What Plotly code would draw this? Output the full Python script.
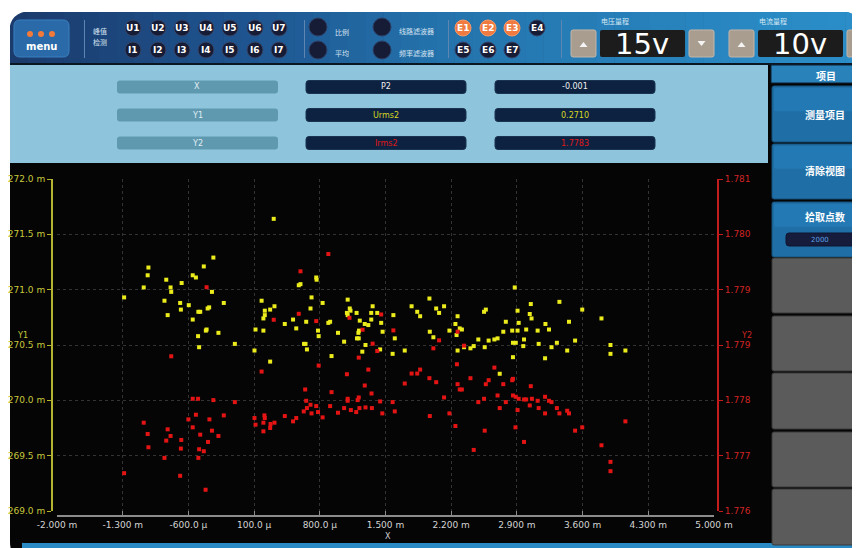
import plotly.graph_objects as go

# page body adds an 8px margin; the figure is sized to fill the rest of the 860x548 window
OFF = 8
W, H = 860 - OFF, 548 - OFF

# ---------------- data ----------------
y1_x = [0.309, -0.334, -0.436, -1.026, -1.034, -0.554, -0.520, -0.836, -0.672, -0.790,
        -1.076, -0.783, -0.349, -1.285, -0.855, -0.688, -0.596, -0.223, -0.379, -0.395,
        -0.680, -0.494, -0.474, -0.821, -0.554, -0.406, -0.414, -0.280, -0.497, -0.105,
        -0.486, 0.762, 0.766, 0.594, 0.576, 0.180, 0.712, 0.830, 0.317, 0.271,
        0.214, 0.701, 0.214, 0.199, 0.515, 0.427, 0.655, 0.549, 0.115, 0.199,
        0.781, 0.788, 0.632, 0.648, 0.663, 0.104, 0.271, 0.925, 1.097, 1.119,
        1.127, 1.089, 1.097, 1.192, 1.363, 1.348, 1.412, 1.454, 1.348, 1.226,
        1.279, 1.317, 0.891, 0.910, 1.218, 1.211, 0.994, 1.469, 1.196, 1.215,
        1.287, 1.059, 1.253, 1.443, 1.599, 1.576, 1.705, 1.584, 1.778, 1.838,
        1.869, 1.968, 2.040, 2.071, 2.124, 2.268, 2.245, 2.181, 1.972, 2.010,
        2.257, 2.291, 2.314, 2.268, 2.337, 2.405, 2.440, 2.489, 2.557, 2.550,
        2.569, 2.599, 2.660, 2.694, 2.755, 2.782, 2.717, 2.877, 2.907, 2.919,
        2.850, 2.907, 2.858, 2.888, 2.858, 2.976, 2.968, 2.999, 3.048, 3.037,
        3.056, 3.121, 3.132, 3.204, 3.242, 3.200, 3.269, 3.326, 3.353, 3.455,
        3.436, 3.520, 3.596, 3.801, 3.897, 3.897, 4.056]
y1_vals = [271.64, 271.29, 271.21, 271.20, 271.13, 271.13, 271.11, 271.09, 271.06, 271.02,
           271.02, 270.98, 270.98, 270.93, 270.90, 270.88, 270.86, 270.88, 270.84, 270.83,
           270.82, 270.80, 270.80, 270.77, 270.73, 270.64, 270.63, 270.61, 270.58, 270.51,
           270.48, 271.11, 271.09, 271.05, 271.04, 270.90, 270.93, 270.88, 270.85, 270.82,
           270.81, 270.83, 270.77, 270.74, 270.73, 270.69, 270.71, 270.65, 270.64, 270.63,
           270.63, 270.58, 270.51, 270.51, 270.46, 270.45, 270.35, 270.40, 270.91, 270.83,
           270.81, 270.79, 270.77, 270.79, 270.85, 270.79, 270.79, 270.70, 270.73, 270.72,
           270.69, 270.68, 270.70, 270.71, 270.63, 270.61, 270.61, 270.62, 270.56, 270.56,
           270.50, 270.53, 270.44, 270.46, 270.56, 270.42, 270.45, 270.77, 270.85, 270.80,
           270.76, 270.92, 270.83, 270.79, 270.85, 270.76, 270.69, 270.63, 270.62, 270.57,
           270.59, 270.65, 270.64, 270.45, 270.48, 270.47, 270.49, 270.55, 270.48, 270.80,
           270.82, 270.54, 270.55, 270.56, 270.62, 270.71, 270.24, 271.02, 270.81, 270.70,
           270.63, 270.63, 270.52, 270.52, 270.39, 270.55, 270.49, 270.64, 270.87, 270.78,
           270.74, 270.63, 270.51, 270.69, 270.64, 270.38, 270.48, 270.52, 270.89, 270.71,
           270.45, 270.54, 270.82, 270.74, 270.50, 270.42, 270.45]

y2_x = [0.891, 0.594, -0.406, 0.576, 1.454, 1.116, 0.309, 0.762, 1.256, 1.584,
        2.268, 2.071, 1.363, 1.412, 2.010, 2.337, -0.783, 1.215, 0.788, 0.180,
        1.317, 1.089, 2.261, 1.869, 1.778, 1.838, 2.660, 1.968, 2.040, 2.405,
        2.599, 2.569, 2.268, 2.755, 2.858, 2.850, 3.048, 1.705, 1.279, 0.644,
        0.925, 1.351, 2.291, 2.314, 2.694, 2.124, 2.858, 2.888, 2.919, 2.976,
        2.999, 3.060, 3.121, 3.200, 3.242, 3.269, 3.326, 2.550, 2.489, 2.782,
        2.717, 2.907, 3.037, 3.132, 3.200, 3.353, 3.436, 3.455, 3.596, 3.520,
        2.885, 2.976, 2.557, 2.245, 2.181, 1.972, 2.440, 3.801, 3.897, 3.897,
        4.056, -0.554, -0.497, -0.334, -0.105, -0.520, -0.223, -0.376, -0.600, -1.076,
        -0.554, -0.821, -0.349, -1.034, -0.790, -0.474, -0.280, -0.836, -0.676, -0.391,
        -1.026, -0.680, -0.486, -0.436, -0.855, -0.494, -1.285, -0.688, -0.417, 0.104,
        0.210, 0.214, 0.199, 0.115, 0.275, 0.317, 0.271, 0.199, 0.427, 0.549,
        0.515, 0.629, 0.663, 0.701, 0.655, 0.762, 0.712, 0.781, 0.830, 0.910,
        0.994, 1.059, 1.097, 1.097, 1.215, 1.203, 1.131, 1.188, 1.222, 1.287,
        1.355, 1.443, 1.466, 1.576, 1.599]
y2_vals = [1.77987, 1.77961, 1.77937, 1.77897, 1.77896, 1.77891, 1.77888, 1.77886, 1.77873, 1.77872,
           1.77870, 1.77857, 1.77852, 1.77841, 1.77845, 1.77849, 1.77833, 1.77831, 1.77819, 1.77810,
           1.77813, 1.77806, 1.77821, 1.77813, 1.77807, 1.77807, 1.77816, 1.77800, 1.77794, 1.77800,
           1.77797, 1.77791, 1.77791, 1.77791, 1.77799, 1.77797, 1.77788, 1.77792, 1.77789, 1.77783,
           1.77779, 1.77777, 1.77783, 1.77783, 1.77774, 1.77771, 1.77774, 1.77772, 1.77769, 1.77768,
           1.77768, 1.77769, 1.77766, 1.77772, 1.77766, 1.77764, 1.77755, 1.77769, 1.77764, 1.77764,
           1.77755, 1.77752, 1.77759, 1.77755, 1.77747, 1.77747, 1.77751, 1.77747, 1.77726, 1.77721,
           1.77726, 1.77704, 1.77721, 1.77728, 1.77747, 1.77743, 1.77692, 1.77699, 1.77674, 1.77660,
           1.77735, 1.77769, 1.77769, 1.77767, 1.77764, 1.77745, 1.77744, 1.77738, 1.77738, 1.77733,
           1.77726, 1.77723, 1.77721, 1.77716, 1.77713, 1.77715, 1.77713, 1.77706, 1.77707, 1.77704,
           1.77696, 1.77694, 1.77693, 1.77690, 1.77680, 1.77680, 1.77657, 1.77653, 1.77632, 1.77740,
           1.77744, 1.77740, 1.77733, 1.77730, 1.77731, 1.77733, 1.77725, 1.77720, 1.77743, 1.77740,
           1.77735, 1.77750, 1.77755, 1.77760, 1.77766, 1.77758, 1.77747, 1.77749, 1.77741, 1.77758,
           1.77748, 1.77755, 1.77769, 1.77766, 1.77771, 1.77767, 1.77752, 1.77749, 1.77755, 1.77756,
           1.77755, 1.77765, 1.77747, 1.77764, 1.77750]

x_tickvals = [-2.0, -1.3, -0.6, 0.1, 0.8, 1.5, 2.2, 2.9, 3.6, 4.3, 5.0]
x_ticktext = ["-2.000 m", "-1.300 m", "-600.0 µ", "100.0 µ", "800.0 µ", "1.500 m",
              "2.200 m", "2.900 m", "3.600 m", "4.300 m", "5.000 m"]
y1_tickvals = [269.0, 269.5, 270.0, 270.5, 271.0, 271.5, 272.0]
y1_ticktext = ["269.0 m", "269.5 m", "270.0 m", "270.5 m", "271.0 m", "271.5 m", "272.0 m"]
y2_tickvals = [1.776, 1.776833, 1.777667, 1.7785, 1.779333, 1.780167, 1.781]
y2_ticktext = ["1.776", "1.777", "1.778", "1.779", "1.779", "1.780", "1.781"]

u_labels = ["U1", "U2", "U3", "U4", "U5", "U6", "U7"]
i_labels = ["I1", "I2", "I3", "I4", "I5", "I6", "I7"]
e_row1 = ["E1", "E2", "E3", "E4"]
e_row2 = ["E5", "E6", "E7"]
e_active = ["E1", "E2", "E3"]
info_names = ["X", "Y1", "Y2"]
info_params = ["P2", "Urms2", "Irms2"]
info_values = ["-0.001", "0.2710", "1.7783"]
info_colors = ["#f0f0f0", "#d8d820", "#e01818"]
side_buttons = ["测量项目", "清除视图", "拾取点数"]
pick_points = "2000"
volt_range = "15v"
curr_range = "10v"

# ---------------- helpers (coordinates given in window pixels) ----------------
shapes = []
annos = []
CJK = "Noto Sans CJK SC"
SANS = "DejaVu Sans"


def PX(x):
    return (x - OFF) / W


def PY(y):
    return 1 - (y - OFF) / H


def rect(x0, y0, x1, y1, fill, lc=None, lw=0):
    shapes.append(dict(type="rect", xref="paper", yref="paper", layer="below",
                       x0=PX(x0), x1=PX(x1), y0=PY(y1), y1=PY(y0), fillcolor=fill,
                       line=dict(width=lw, color=lc or fill)))


def path(pts_str, fill, lc=None, lw=0):
    shapes.append(dict(type="path", xref="paper", yref="paper", layer="below",
                       path=pts_str, fillcolor=fill, line=dict(width=lw, color=lc or fill)))


def P(x, y):
    return f"{PX(x):.5f},{PY(y):.5f}"


def rrect(x0, y0, x1, y1, r, fill, lc=None, lw=0):
    s = (f"M {P(x0 + r, y0)} L {P(x1 - r, y0)} Q {P(x1, y0)} {P(x1, y0 + r)} "
         f"L {P(x1, y1 - r)} Q {P(x1, y1)} {P(x1 - r, y1)} L {P(x0 + r, y1)} "
         f"Q {P(x0, y1)} {P(x0, y1 - r)} L {P(x0, y0 + r)} Q {P(x0, y0)} {P(x0 + r, y0)} Z")
    path(s, fill, lc, lw)


def circle(cx, cy, r, fill, lc=None, lw=0):
    shapes.append(dict(type="circle", xref="paper", yref="paper", layer="below",
                       x0=PX(cx - r), x1=PX(cx + r), y0=PY(cy + r), y1=PY(cy - r),
                       fillcolor=fill, line=dict(width=lw, color=lc or fill)))


def text(x, y, s, size, color, family=SANS, bold=False, xanchor="center"):
    annos.append(dict(xref="paper", yref="paper", x=PX(x), y=PY(y), text=(f"<b>{s}</b>" if bold else s),
                      showarrow=False, xanchor=xanchor, yanchor="middle",
                      font=dict(size=size, color=color, family=family)))


def lerp_col(c0, c1, t):
    a = [int(c0[i:i + 2], 16) for i in (1, 3, 5)]
    b = [int(c1[i:i + 2], 16) for i in (1, 3, 5)]
    return "#" + "".join(f"{int(round(a[k] + (b[k] - a[k]) * t)):02x}" for k in range(3))


# ---------------- device body ----------------
rrect(10, 12, 880, 560, 18, "#050505")
rect(22, 541, 860, 548, "#2a8ac4")
rrect(10, 400, 880, 543, 14, "#050505")

# top bar gradient
stops = [(10, "#1b3a6c"), (250, "#1e5590"), (450, "#2474ad"), (863, "#2b8fc9")]
n = 48
for k in range(n):
    xa = 10 + (863 - 10) * k / n
    xb = 10 + (863 - 10) * (k + 1) / n + 0.6
    xm = (xa + xb) / 2
    for j in range(len(stops) - 1):
        if stops[j][0] <= xm <= stops[j + 1][0]:
            t = (xm - stops[j][0]) / (stops[j + 1][0] - stops[j][0])
            col = lerp_col(stops[j][1], stops[j + 1][1], t)
    rect(xa, 12, xb, 63, col)
rect(10, 63, 860, 65, "#0a1622")
path(f"M {P(9, 11)} L {P(30, 11)} Q {P(10, 12)} {P(9, 32)} Z", "#ffffff")
path(f"M {P(861, 11)} L {P(842, 11)} Q {P(861, 12)} {P(861, 32)} Z", "#ffffff")

# menu button
rrect(14, 20, 69, 57, 6, "#2a6aa8", "#3b80c0", 1)
for dx in (30, 41, 52):
    circle(dx, 34, 3, "#f47a3a")
text(41, 46, "menu", 10, "#ffffff", bold=True)
for sx in (84, 304, 448, 561):
    rect(sx, 20, sx + 1, 58, "#5f86b0")
text(100, 31, "峰值", 7, "#d6e4f2", CJK)
text(100, 42, "检测", 7, "#d6e4f2", CJK)

ux = [133, 158, 182, 206, 230, 255, 279]
for k in range(7):
    circle(ux[k], 28, 8, "#161b36", "#35456a", 1)
    text(ux[k], 28, u_labels[k], 9, "#ffffff", bold=True)
    circle(ux[k], 50, 8, "#161b36", "#35456a", 1)
    text(ux[k], 50, i_labels[k], 9, "#ffffff", bold=True)

for cx in (318, 382):
    circle(cx, 27, 9, "#161b36", "#2e3f66", 1)
    circle(cx, 50, 9, "#161b36", "#2e3f66", 1)
text(342, 32, "比例", 7, "#d6e4f2", CJK)
text(342, 53, "平均", 7, "#d6e4f2", CJK)
text(416, 31, "线路滤波器", 7, "#d6e4f2", CJK)
text(416, 53, "频率滤波器", 7, "#d6e4f2", CJK)

ex = [463, 488, 512, 537]
for k, lab in enumerate(e_row1):
    fill = "#f07a40" if lab in e_active else "#161b36"
    circle(ex[k], 28, 8, fill, "#35456a" if fill == "#161b36" else "#f49a6a", 1)
    text(ex[k], 28, lab, 9, "#ffffff", bold=True)
for k, lab in enumerate(e_row2):
    fill = "#f07a40" if lab in e_active else "#161b36"
    circle(ex[k], 50, 8, fill, "#35456a", 1)
    text(ex[k], 50, lab, 9, "#ffffff", bold=True)


def range_ctrl(x0, label, val):
    text(x0 + 44, 21, label, 7, "#d6e8f6", CJK)
    rrect(x0, 30, x0 + 25, 57, 2, "#a99d8f", "#c4b8aa", 1)
    path(f"M {P(x0 + 8.5, 47)} L {P(x0 + 16.5, 47)} L {P(x0 + 12.5, 42)} Z", "#f4f4f4")
    rrect(x0 + 29, 30, x0 + 114, 57, 2, "#1c1c1c")
    text(x0 + 71, 44, val, 29, "#ffffff")
    rrect(x0 + 118, 30, x0 + 143, 57, 2, "#a99d8f", "#c4b8aa", 1)
    path(f"M {P(x0 + 126.5, 41)} L {P(x0 + 134.5, 41)} L {P(x0 + 130.5, 46)} Z", "#f4f4f4")


range_ctrl(571, "电压量程", volt_range)
range_ctrl(729, "电流量程", curr_range)

# info panel
rect(10, 65, 768, 163, "#8fc5dc")
rows_y = [87, 115, 143]
for k in range(3):
    yc = rows_y[k]
    rrect(117, yc - 6.5, 278, yc + 6.5, 3, "#5e99b0")
    text(197, yc, info_names[k], 8, "#e2edf2")
    rrect(306, yc - 6.5, 466, yc + 6.5, 3, "#0c2240", "#1a3350", 1)
    text(386, yc, info_params[k], 8, info_colors[k])
    rrect(495, yc - 6.5, 655, yc + 6.5, 3, "#0c2240", "#1a3350", 1)
    text(575, yc, info_values[k], 8, info_colors[k])

# right panel
rect(771, 65, 862, 83, "#2a82bb", "#0d2030", 1)
text(826, 75, "项目", 10, "#ffffff", CJK, bold=True)
btn_y = [(86, 142), (144, 199), (202, 257)]
for k, (ya, yb) in enumerate(btn_y):
    rrect(772, ya, 866, yb, 2, "#1f6fa6", "#15507a", 1)
    rrect(774, ya + 2, 866, ya + (yb - ya) * 0.45, 2, "#2379b3")
text(825, 114, side_buttons[0], 10, "#ffffff", CJK, bold=True)
text(825, 171, side_buttons[1], 10, "#ffffff", CJK, bold=True)
text(825, 216, side_buttons[2], 10, "#ffffff", CJK, bold=True)
rrect(786, 233, 855, 246, 3, "#161c3c", "#0f1530", 1)
text(820, 240, pick_points, 7, "#5aa0e6")
for ya, yb in [(258, 313), (316, 371), (373, 429), (432, 487), (489, 545)]:
    rrect(772, ya, 866, yb, 2, "#5b5b5b", "#3a3a3a", 1)

text(22, 335, "Y1", 8, "#c8c83c")
text(746, 335, "Y2", 8, "#d02424")
text(388, 536, "X", 8, "#d0d0d0")

# ---------------- traces ----------------
fig = go.Figure()
fig.add_trace(go.Scatter(x=y1_x, y=y1_vals, mode="markers", name="Urms2",
                         marker=dict(symbol="square", size=4, color="#ecec1c", line=dict(width=0)),
                         yaxis="y"))
fig.add_trace(go.Scatter(x=y2_x, y=y2_vals, mode="markers", name="Irms2",
                         marker=dict(symbol="square", size=4, color="#e41414", line=dict(width=0)),
                         yaxis="y2"))

ydom = [PY(511), PY(179)]
grid = dict(showgrid=True, gridcolor="#333333", griddash="dot", gridwidth=1, zeroline=False)

fig.update_layout(
    template="none",
    width=W, height=H, autosize=False,
    margin=dict(l=0, r=0, t=0, b=0, pad=0),
    paper_bgcolor="#ffffff", plot_bgcolor="rgba(0,0,0,0)",
    showlegend=False,
    shapes=shapes, annotations=annos,
    xaxis=dict(domain=[PX(57), PX(714)], range=[-2.0, 5.0], tickmode="array",
               tickvals=x_tickvals, ticktext=x_ticktext, anchor="free", position=PY(516),
               automargin=False,
               showline=True, linecolor="#8c8c8c", linewidth=2, ticks="inside", ticklen=4,
               tickcolor="#8c8c8c", tickfont=dict(size=9, color="#d4d4d4", family=SANS), **grid),
    yaxis=dict(domain=ydom, range=[269.0, 272.0], tickmode="array", tickvals=y1_tickvals,
               ticktext=y1_ticktext, anchor="free", position=PX(52), showline=True,
               automargin=False,
               linecolor="#b4b430", linewidth=2, ticks="outside", ticklen=4, tickcolor="#b4b430",
               tickfont=dict(size=9, color="#c8c83c", family=SANS), **grid),
    yaxis2=dict(domain=ydom, range=[1.776, 1.781], tickmode="array", tickvals=y2_tickvals,
                ticktext=y2_ticktext, overlaying="y", side="right", anchor="free",
                automargin=False,
                position=PX(718), showline=True, linecolor="#c41c1c", linewidth=2,
                ticks="outside", ticklen=4, tickcolor="#c41c1c", showgrid=False, zeroline=False,
                tickfont=dict(size=9, color="#d02424", family=SANS)),
)

fig.write_html("out.html")
